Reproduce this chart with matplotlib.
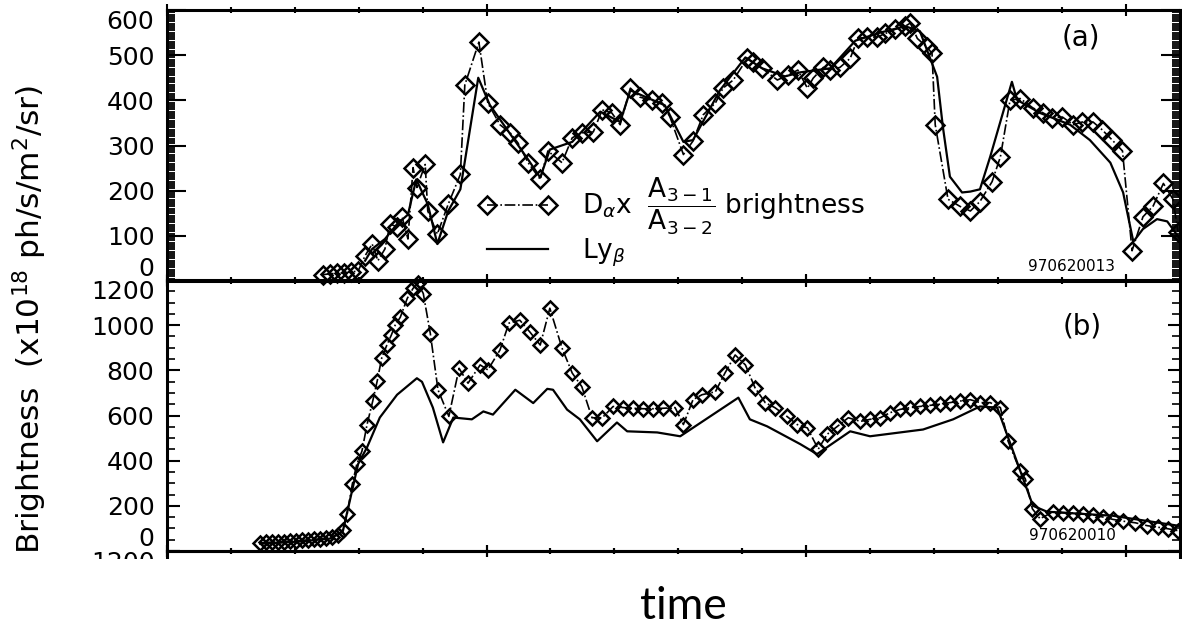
import matplotlib.pyplot as plt
from matplotlib.lines import Line2D
from matplotlib.patches import Rectangle
from matplotlib.ticker import MultipleLocator
import numpy as np

# (a) shot 970620013 -- D_alpha x A31/A32 (diamonds) and Ly_beta (solid)
t_a_dalpha = [2.44, 2.55, 2.66, 2.77, 2.88, 2.99, 3.10, 3.21, 3.30, 3.41, 3.49, 3.60, 3.68, 3.77,
              3.85, 3.91, 4.04, 4.08, 4.23, 4.40, 4.59, 4.66, 4.88, 5.02, 5.21, 5.37, 5.49, 5.65,
              5.84, 5.96, 6.18, 6.34, 6.49, 6.67, 6.81, 6.96, 7.09, 7.25, 7.40, 7.59, 7.75, 7.87,
              8.08, 8.23, 8.39, 8.58, 8.70, 8.86, 9.08, 9.17, 9.31, 9.55, 9.72, 9.87, 10.02, 10.11,
              10.27, 10.38, 10.53, 10.69, 10.81, 10.95, 11.11, 11.24, 11.39, 11.55, 11.63, 11.74,
              11.89, 11.97, 12.02, 12.22, 12.41, 12.57, 12.72, 12.91, 13.04, 13.19, 13.35, 13.55,
              13.71, 13.85, 14.01, 14.18, 14.32, 14.49, 14.63, 14.79, 14.95, 15.10, 15.27, 15.43,
              15.59, 15.74, 15.82]
a_dalpha = [14, 16, 17, 18, 20, 22, 56, 82, 45, 71, 126, 120, 141, 93,
            251, 207, 258, 155, 104, 170, 236, 434, 529, 394, 346, 328, 306, 262,
            225, 288, 262, 317, 328, 330, 379, 372, 346, 427, 407, 400, 394, 363,
            280, 310, 368, 394, 427, 445, 493, 484, 471, 445, 456, 467, 427, 449,
            473, 467, 473, 493, 537, 540, 540, 548, 557, 564, 571, 537,
            518, 504, 346, 181, 165, 155, 176, 220, 275, 400, 404, 383,
            372, 361, 363, 346, 352, 352, 335, 312, 288, 67, 142, 166,
            216, 181, 108]
t_a_lyb = [3.10, 3.21, 3.41, 3.60, 3.77, 3.90, 4.08, 4.23, 4.40, 4.59, 4.87, 5.05, 5.65, 5.84,
           5.99, 6.34, 6.78, 7.09, 7.25, 7.79, 8.08, 8.23, 8.65, 9.05, 9.31, 9.67, 9.91, 10.38,
           10.77, 11.16, 11.55, 11.78, 12.05, 12.14, 12.25, 12.44, 12.57, 12.72, 12.88, 13.22,
           13.30, 13.66, 14.13, 14.44, 14.76, 14.96, 15.12, 15.27, 15.49, 15.65, 15.85]
a_lyb = [45, 71, 93, 126, 147, 225, 170, 82, 155, 203, 450, 390, 269, 229,
         291, 308, 375, 352, 422, 389, 308, 312, 422, 495, 471, 453, 462, 471,
         532, 550, 564, 553, 452, 341, 231, 196, 198, 203, 275, 441,
         401, 372, 346, 312, 262, 196, 87, 115, 137, 132, 93]

# (b) shot 970620010
t_b_dalpha = [1.46, 1.55, 1.64, 1.74, 1.83, 1.92, 2.02, 2.11, 2.21, 2.30, 2.39, 2.49, 2.58, 2.68,
              2.75, 2.82, 2.90, 2.97, 3.05, 3.13, 3.22, 3.29, 3.36, 3.44, 3.51, 3.57, 3.65, 3.76,
              3.85, 3.93, 4.01, 4.12, 4.24, 4.41, 4.57, 4.71, 4.90, 5.02, 5.21, 5.35, 5.52, 5.68,
              5.84, 5.99, 6.18, 6.34, 6.49, 6.65, 6.81, 6.98, 7.14, 7.29, 7.45, 7.61, 7.76, 7.95,
              8.08, 8.23, 8.37, 8.58, 8.73, 8.89, 9.05, 9.20, 9.36, 9.51, 9.70, 9.86, 10.02, 10.19,
              10.33, 10.49, 10.66, 10.85, 11.00, 11.16, 11.31, 11.47, 11.63, 11.78, 11.94, 12.10,
              12.25, 12.41, 12.57, 12.72, 12.88, 13.04, 13.16, 13.35, 13.43, 13.54, 13.66, 13.87,
              14.02, 14.18, 14.33, 14.49, 14.65, 14.80, 14.96, 15.15, 15.34, 15.51, 15.67, 15.82]
b_dalpha = [36, 38, 39, 41, 42, 44, 45, 47, 49, 51, 54, 58, 63, 72,
            95, 165, 297, 385, 442, 560, 665, 754, 855, 912, 956, 1000, 1035, 1119,
            1163, 1185, 1140, 963, 714, 596, 809, 743, 824, 802, 890, 1009, 1022, 969,
            912, 1075, 899, 788, 728, 590, 590, 640, 635, 632, 630, 630, 632, 635,
            560, 670, 692, 705, 788, 868, 824, 723, 657, 635, 596, 560, 545, 451,
            517, 552, 590, 574, 583, 590, 612, 627, 635, 640, 645, 650,
            657, 664, 670, 657, 657, 635, 486, 354, 319, 187, 143, 174,
            170, 168, 165, 160, 150, 140, 132, 125, 112, 105, 98, 90]
t_b_lyb = [1.46, 2.08, 2.55, 2.75, 2.86, 2.99, 3.13, 3.33, 3.60, 3.91, 3.99, 4.16, 4.32, 4.48,
           4.77, 4.95, 5.10, 5.45, 5.73, 5.95, 6.04, 6.26, 6.46, 6.73, 7.04, 7.20, 7.67, 8.03,
           8.94, 9.12, 9.39, 9.91, 10.17, 10.69, 11.00, 11.83, 12.30, 12.72, 12.99, 13.55,
           13.77, 14.80, 15.82]
b_lyb = [32, 42, 55, 86, 222, 385, 459, 591, 692, 765, 749, 635, 481, 591,
         583, 618, 604, 714, 655, 718, 714, 626, 583, 486, 569, 530, 525, 508,
         679, 583, 552, 473, 429, 530, 508, 538, 583, 640, 635, 200,
         174, 156, 112]

plt.rcParams['font.family'] = 'DejaVu Sans'

W, H = 1182, 627
fig = plt.figure(figsize=(W / 100, H / 100), dpi=100)
left, right = 167 / W, 1180 / W
ax_a = fig.add_axes([left, 1 - 281 / H, right - left, 271 / H])
ax_b = fig.add_axes([left, 1 - 551 / H, right - left, 271 / H])
ax_c = fig.add_axes([left, 1 - 822 / H, right - left, 271 / H])  # cut-off panel below


def style(ax, ymax, yticks, yminor, majlen, minlen, minwidth):
    ax.patch.set_visible(False)
    ax.set_xlim(0, 15.85)
    ax.set_ylim(0, ymax)
    for s in ax.spines.values():
        s.set_linewidth(2.2)
    ax.xaxis.set_major_locator(MultipleLocator(5))
    ax.xaxis.set_minor_locator(MultipleLocator(1))
    ax.set_yticks(yticks)
    ax.yaxis.set_minor_locator(MultipleLocator(yminor))
    ax.tick_params(axis='x', which='both', direction='inout', top=True, bottom=True,
                   labelbottom=False, width=1.5)
    ax.tick_params(axis='x', which='major', length=9)
    ax.tick_params(axis='x', which='minor', length=5)
    ax.tick_params(axis='y', which='both', direction='in', left=True, right=True,
                   labelsize=18, pad=9)
    ax.tick_params(axis='y', which='major', length=majlen, width=1.5)
    ax.tick_params(axis='y', which='minor', length=minlen, width=minwidth)
    ticks = ax.yaxis.get_major_ticks()
    ticks[0].label1.set_verticalalignment('bottom')
    ticks[-1].label1.set_verticalalignment('top')


style(ax_a, 600, np.arange(0, 601, 100), 5, 14, 6, 1.3)
style(ax_b, 1200, np.arange(0, 1201, 200), 50, 9, 5.5, 1.2)
style(ax_c, 1200, [1200], 50, 9, 5.5, 1.2)

dd = dict(color='black', ls='-.', lw=1.2, marker='D', mfc='none', mec='black', clip_on=False)
ax_a.plot(t_a_dalpha, a_dalpha, ms=9.5, mew=1.8, **dd)
ax_a.plot(t_a_lyb, a_lyb, color='black', lw=1.6, clip_on=False)
ax_b.plot(t_b_dalpha, b_dalpha, ms=6.8, mew=1.8, **dd)
ax_b.plot(t_b_lyb, b_lyb, color='black', lw=1.6, clip_on=False)

# legend, two rows placed separately
h1 = Line2D([], [], color='black', ls='-.', lw=1.2, marker='D', ms=9.5, mfc='none', mew=1.8)
h2 = Line2D([], [], color='black', lw=1.6)
leg1 = ax_a.legend([h1], [r'D$_\alpha$x  $\dfrac{\mathrm{A}_{3-1}}{\mathrm{A}_{3-2}}$ brightness'],
                   loc='center left', bbox_to_anchor=(0.3085, 0.275), frameon=False, numpoints=2,
                   handlelength=2.9, handletextpad=1.0, borderpad=0, borderaxespad=0, fontsize=19)
ax_a.add_artist(leg1)
ax_a.legend([h2], [r'Ly$_\beta$'], loc='center left', bbox_to_anchor=(0.316, 0.105),
            frameon=False, handlelength=2.3, handletextpad=1.3, borderpad=0, borderaxespad=0,
            fontsize=19)

ax_a.text(0.902, 0.90, '(a)', transform=ax_a.transAxes, ha='center', va='center', fontsize=20)
ax_b.text(0.903, 0.83, '(b)', transform=ax_b.transAxes, ha='center', va='center', fontsize=20)
ax_a.text(0.893, 0.055, '970620013', transform=ax_a.transAxes, ha='center', va='center', fontsize=11)
ax_b.text(0.894, 0.059, '970620010', transform=ax_b.transAxes, ha='center', va='center', fontsize=11)

fig.text(30 / W, 0.491, r'Brightness  (x10$^{18}$ ph/s/m$^2$/sr)', rotation=90,
         ha='center', va='center', fontsize=22.5)

# the scan is cut just below panel (b)
fig.add_artist(Rectangle((0, 0), 1, (H - 559) / H, transform=fig.transFigure,
                         facecolor='white', edgecolor='none', zorder=5))
fig.text(683 / W, 8 / H, 'time', ha='center', va='baseline', fontsize=32,
         family='Lato', zorder=6)

fig.savefig('out.png', dpi=100)
